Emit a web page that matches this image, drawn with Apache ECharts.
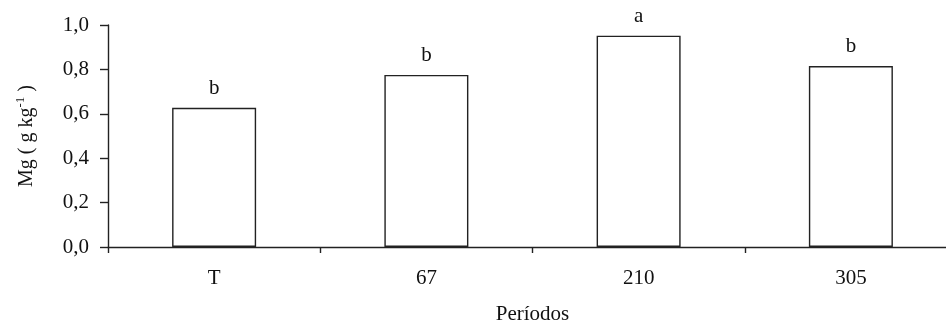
<!DOCTYPE html>
<html>
<head>
<meta charset="utf-8">
<script src="https://cdn.jsdelivr.net/npm/echarts@6/dist/echarts.min.js"></script>
<style>
html,body{margin:0;padding:0;background:#fff;}
#c{width:946px;height:323px;}
</style>
</head>
<body>
<div id="c"></div>
<script>
var categories = ['T', '67', '210', '305'];
var values = [0.627, 0.775, 0.952, 0.815];
var letters = ['b', 'b', 'a', 'b'];
var yTicks = [0, 0.2, 0.4, 0.6, 0.8, 1.0];

var font = '"Liberation Serif", "DejaVu Serif", serif';
var fs = 21;
var axisColor = '#222';
var chart = echarts.init(document.getElementById('c'), null, {renderer: 'canvas'});
chart.setOption({
  animation: false,
  backgroundColor: '#fff',
  grid: {left: 108, right: -11, top: 25, bottom: 76, containLabel: false, outerBoundsMode: 'none'},
  xAxis: {
    type: 'category',
    data: categories,
    name: 'Períodos',
    nameLocation: 'middle',
    nameGap: 57,
    nameTextStyle: {fontFamily: font, fontSize: fs, color: '#111'},
    axisLine: {lineStyle: {color: axisColor, width: 1.4}},
    axisTick: {show: true, length: 6, alignWithLabel: false, lineStyle: {color: axisColor, width: 1.4}},
    axisLabel: {fontFamily: font, fontSize: fs, color: '#111', margin: 21}
  },
  yAxis: {
    type: 'value',
    min: 0, max: 1, interval: 0.2,
    name: '{n|Mg ( g kg}{s|-1}{n| )}',
    nameLocation: 'middle',
    nameGap: 69,
    nameRotate: 90,
    nameTextStyle: {
      fontFamily: font, fontSize: 20, color: '#111',
      rich: {
        n: {fontFamily: font, fontSize: 20, color: '#111'},
        s: {fontFamily: font, fontSize: 13, color: '#111', verticalAlign: 'bottom', padding: [0, 0, 12, 0]}
      }
    },
    axisLine: {show: true, lineStyle: {color: axisColor, width: 1.4}},
    axisTick: {show: true, length: 8, lineStyle: {color: axisColor, width: 1.4}},
    splitLine: {show: false},
    axisLabel: {
      fontFamily: font, fontSize: fs, color: '#111', margin: 19,
      formatter: function (v) { return v.toFixed(1).replace('.', ','); }
    }
  },
  series: [{
    type: 'bar',
    data: values,
    barWidth: 84,
    itemStyle: {color: '#fff', borderColor: '#222', borderWidth: 1.4},
    label: {
      show: true, position: 'top', distance: 9,
      fontFamily: font, fontSize: fs, color: '#111',
      formatter: function (p) { return letters[p.dataIndex]; }
    }
  }]
});
</script>
</body>
</html>
